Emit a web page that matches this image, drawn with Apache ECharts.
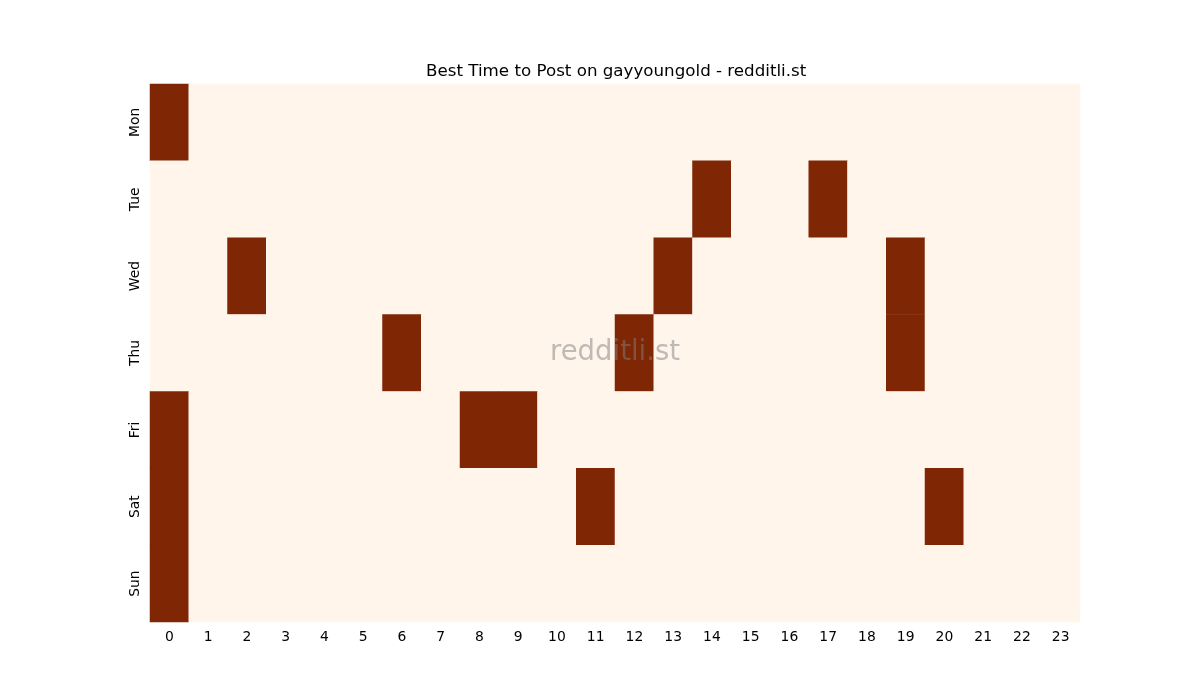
<!DOCTYPE html>
<html>
<head>
    <meta charset="utf-8">
    <title>Best Time to Post</title>
    <script src="https://cdn.jsdelivr.net/npm/echarts@6/dist/echarts.min.js"></script>
</head>
<body style="margin:0;background:#fff">
<div id="main" style="width:1200px;height:700px;"></div>
<script type="text/javascript">
    var hours = ['0','1','2','3','4','5','6','7','8','9','10','11','12','13','14','15','16','17','18','19','20','21','22','23'];
    var days = ['Mon','Tue','Wed','Thu','Fri','Sat','Sun'];
    // hours with the best score, per day
    var hotMon = [0];
    var hotTue = [14, 17];
    var hotWed = [2, 13, 19];
    var hotThu = [6, 12, 19];
    var hotFri = [0, 8, 9];
    var hotSat = [0, 11, 20];
    var hotSun = [0];

    var hot = [hotMon, hotTue, hotWed, hotThu, hotFri, hotSat, hotSun];
    var data = [];
    for (var d = 0; d < days.length; d++) {
        for (var h = 0; h < hours.length; h++) {
            data.push([h, d, hot[d].indexOf(h) >= 0 ? 1 : 0]);
        }
    }

    var myChart = echarts.init(document.getElementById('main'));
    var font = 'DejaVu Sans';
    option = {
        animation: false,
        textStyle: {fontFamily: font},
        title: {
            text: 'Best Time to Post on gayyoungold - redditli.st',
            left: 421, top: 58,
            textStyle: {fontFamily: font, fontSize: 16.7, fontWeight: 'normal', color: '#000'}
        },
        grid: {left: 150, right: 120, top: 84, bottom: 78},
        xAxis: {
            type: 'category', data: hours,
            axisLine: {show: false},
            axisTick: {alignWithLabel: true, length: 5, lineStyle: {color: '#000'}},
            axisLabel: {color: '#000', fontSize: 13.9, fontFamily: font, margin: 8},
            splitLine: {show: false}
        },
        yAxis: {
            type: 'category', data: days, inverse: true,
            axisLine: {show: false},
            axisTick: {alignWithLabel: true, length: 5, lineStyle: {color: '#000'}},
            axisLabel: {color: '#000', fontSize: 13.9, fontFamily: font, rotate: 90, margin: 8},
            splitLine: {show: false}
        },
        visualMap: {
            show: false, min: 0, max: 1, dimension: 2,
            inRange: {color: ['#fff5eb', '#7f2704']}
        },
        series: [{
            type: 'heatmap',
            data: data,
            itemStyle: {borderWidth: 0}
        }],
        graphic: [{
            type: 'text', left: 550, top: 339, z: 100,
            style: {
                text: 'redditli.st', fontSize: 27.5, fontFamily: font,
                fill: 'rgba(128,128,128,0.5)'
            }
        }]
    };
    myChart.setOption(option);
</script>
</body>
</html>
